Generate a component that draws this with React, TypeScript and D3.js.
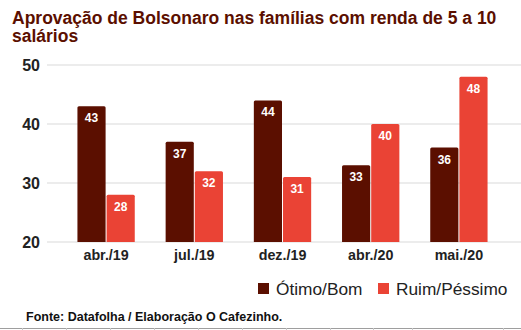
import React from "react";
import * as d3 from "d3";

const categories = ["abr./19", "jul./19", "dez./19", "abr./20", "mai./20"];
const otimoBom = [43, 37, 44, 33, 36];
const ruimPessimo = [28, 32, 31, 40, 48];
const yTicks = [20, 30, 40, 50];
const seriesNames = ["Ótimo/Bom", "Ruim/Péssimo"];
const gridCols = [22, 66, 110, 154, 198, 242, 286, 330, 373, 412, 503];

const W = 521;
const H = 330;
const DARK = "#5b0f00";
const RED = "#ea4335";
const FONT = "'Liberation Sans', Arial, sans-serif";

export default function App() {
  const x = d3.scaleBand<string>().domain(categories).range([62, 503]).paddingInner(0.35).paddingOuter(0.175);
  const y = d3.scaleLinear().domain([20, 50]).range([242, 65]);
  const bw = x.bandwidth();
  const barW = (bw - 1) / 2;
  const series = [otimoBom, ruimPessimo];
  const colors = [DARK, RED];

  const barPath = (x0: number, top: number, w: number, bottom: number) => {
    const r = 1.5;
    return `M${x0},${bottom}V${top + r}Q${x0},${top} ${x0 + r},${top}H${x0 + w - r}Q${x0 + w},${top} ${x0 + w},${top + r}V${bottom}Z`;
  };

  return (
    <svg width={W} height={H} style={{ position: "absolute", left: 0, top: 0, fontFamily: FONT }}>
      <rect width={W} height={H} fill="#fff" />
      <text x={12} y={24} fontSize={17.5} fontWeight="bold" fill={DARK}>
        Aprovação de Bolsonaro nas famílias com renda de 5 a 10
      </text>
      <text x={12} y={42} fontSize={17.5} fontWeight="bold" fill={DARK}>
        salários
      </text>
      {yTicks.map((t) => (
        <g key={t}>
          <line x1={47} x2={521} y1={y(t)} y2={y(t)} stroke="#d9d9d9" strokeWidth={1} />
          <text x={40} y={y(t)} dy="0.35em" textAnchor="end" fontSize={16} fontWeight="bold" fill="#222">
            {t}
          </text>
        </g>
      ))}
      {categories.map((c, i) => (
        <g key={c}>
          {series.map((s, j) => {
            const x0 = (x(c) as number) + j * (barW + 1);
            const top = y(s[i]);
            return (
              <g key={j}>
                <path d={barPath(x0, top, barW, y(20))} fill={colors[j]} />
                <text x={x0 + barW / 2} y={top + 16} textAnchor="middle" fontSize={12} fontWeight="bold" fill="#fff">
                  {s[i]}
                </text>
              </g>
            );
          })}
          <text x={(x(c) as number) + bw / 2} y={260} textAnchor="middle" fontSize={14.3} fontWeight="bold" fill="#222">
            {c}
          </text>
        </g>
      ))}
      <rect x={258} y={283} width={11} height={11} fill={DARK} />
      <text x={276} y={295} fontSize={17.3} fill="#222">{seriesNames[0]}</text>
      <rect x={378} y={283} width={11} height={11} fill={RED} />
      <text x={396} y={295} fontSize={17.3} fill="#222">{seriesNames[1]}</text>
      <text x={26} y={321} fontSize={12.5} fontWeight="bold" fill="#111">
        Fonte: Datafolha / Elaboração O Cafezinho.
      </text>
      <line x1={0} x2={W} y1={328.5} y2={328.5} stroke="#9e9e9e" strokeWidth={1} />
      {gridCols.map((gx) => (
        <line key={gx} x1={gx + 0.5} x2={gx + 0.5} y1={328} y2={330} stroke="#c8c8c8" strokeWidth={1} />
      ))}
    </svg>
  );
}
